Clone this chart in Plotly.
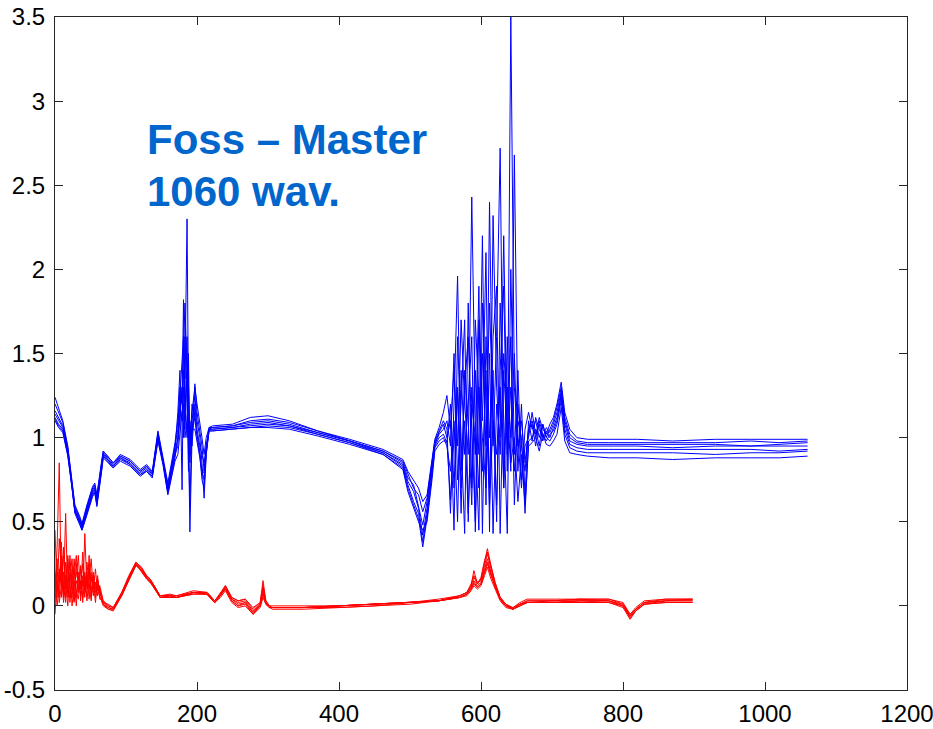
import plotly.graph_objects as go

# ---------------- data ----------------
BLUE_X = [0, 5, 11, 18, 24, 28, 35, 38, 45, 53, 56, 59, 66, 68, 82, 92, 106, 120, 129, 137, 145, 152, 159, 169,
          173, 176, 179, 181, 183, 186, 188, 190, 193, 197, 200, 204, 207, 210, 213, 217,
          222, 250, 275, 300, 330, 370, 415, 462, 490, 497, 505, 512, 518, 524, 531, 535, 541, 547,
          552, 557, 562, 567, 572, 577, 582, 587, 592, 597, 602, 607, 612, 617, 622, 627, 632, 637, 642, 647,
          652, 657, 662, 667, 672, 677, 682, 687, 692, 697,
          702, 707, 713, 718, 725, 735, 750, 780, 820, 870, 930, 980, 1020, 1060]

B1 = [1.24, 1.18, 1.10, 0.95, 0.75, 0.60, 0.53, 0.49, 0.60, 0.71, 0.73, 0.66, 0.87, 0.92, 0.85, 0.90, 0.87, 0.81, 0.84, 0.80, 1.04, 0.89, 0.73, 0.97,
      1.10, 1.25, 1.45, 1.60, 1.35, 2.30, 1.20, 0.95, 1.15, 1.30, 1.20, 1.10, 1.00, 0.90, 1.00, 1.06,
      1.07, 1.08, 1.12, 1.13, 1.10, 1.04, 0.99, 0.93, 0.87, 0.80, 0.75, 0.70, 0.62, 0.66, 0.87, 0.99, 1.06, 1.15,
      1.25, 1.05, 1.40, 0.95, 1.70, 1.20, 0.90, 2.43, 1.10, 0.70, 1.50, 0.95, 1.80, 1.10, 0.60, 1.40, 1.90, 0.80, 3.50, 1.30,
      0.95, 1.10, 0.85, 1.05, 1.10, 1.00, 1.12, 1.05, 1.02, 1.08,
      1.12, 1.20, 1.33, 1.15, 1.05, 1.00, 0.99, 0.99, 0.99, 0.98, 0.99, 0.99, 0.99, 0.99]
B2 = [1.20, 1.15, 1.09, 0.94, 0.74, 0.59, 0.52, 0.48, 0.59, 0.70, 0.72, 0.65, 0.86, 0.92, 0.85, 0.89, 0.86, 0.80, 0.83, 0.79, 1.03, 0.88, 0.71, 0.95,
      1.05, 1.30, 1.20, 1.82, 1.10, 1.60, 0.90, 0.44, 1.00, 1.32, 1.15, 1.05, 0.95, 0.80, 0.95, 1.05,
      1.06, 1.07, 1.10, 1.11, 1.09, 1.04, 0.98, 0.92, 0.86, 0.78, 0.70, 0.66, 0.56, 0.64, 0.86, 0.98, 1.04, 1.10,
      1.05, 0.55, 1.20, 1.96, 0.80, 1.30, 1.60, 1.00, 0.50, 1.70, 1.10, 2.10, 0.44, 2.32, 1.30, 0.90, 1.50, 1.20, 0.80, 2.68,
      1.00, 0.70, 1.05, 1.15, 1.05, 1.10, 1.00, 1.08, 1.00, 1.05,
      1.10, 1.18, 1.30, 1.12, 1.02, 0.98, 0.97, 0.97, 0.97, 0.97, 0.97, 0.98, 0.97, 0.98]
B3 = [1.16, 1.12, 1.07, 0.93, 0.73, 0.58, 0.51, 0.47, 0.58, 0.69, 0.71, 0.64, 0.85, 0.91, 0.84, 0.89, 0.86, 0.80, 0.83, 0.79, 1.02, 0.87, 0.70, 0.93,
      1.15, 1.40, 0.69, 1.50, 1.80, 1.40, 1.00, 0.60, 1.10, 1.25, 1.10, 1.00, 0.85, 0.64, 0.90, 1.06,
      1.06, 1.07, 1.09, 1.10, 1.08, 1.03, 0.98, 0.92, 0.85, 0.76, 0.72, 0.60, 0.48, 0.62, 0.85, 0.97, 1.03, 1.08,
      1.00, 1.10, 0.45, 1.60, 1.00, 0.43, 1.80, 0.70, 1.40, 0.90, 2.20, 0.60, 2.40, 0.95, 1.60, 2.72, 0.70, 1.30, 1.00, 1.50,
      0.80, 1.20, 0.65, 1.10, 0.98, 1.12, 1.05, 1.00, 1.06, 1.03,
      1.08, 1.15, 1.28, 1.10, 1.00, 0.97, 0.96, 0.96, 0.96, 0.96, 0.96, 0.95, 0.96, 0.97]
B4 = [1.14, 1.10, 1.06, 0.92, 0.72, 0.57, 0.50, 0.46, 0.57, 0.68, 0.70, 0.62, 0.84, 0.90, 0.83, 0.88, 0.85, 0.79, 0.82, 0.78, 1.01, 0.87, 0.69, 0.92,
      1.00, 1.15, 1.30, 1.00, 1.60, 1.20, 0.80, 1.10, 0.95, 1.20, 1.05, 0.95, 0.90, 0.85, 0.95, 1.05,
      1.05, 1.06, 1.08, 1.09, 1.07, 1.03, 0.98, 0.91, 0.84, 0.74, 0.68, 0.58, 0.42, 0.58, 0.83, 0.96, 1.02, 1.05,
      1.10, 0.95, 1.50, 0.75, 1.20, 1.70, 0.50, 1.30, 0.90, 1.90, 0.43, 1.60, 1.00, 1.40, 0.50, 1.80, 1.10, 0.43, 2.00, 0.90,
      1.40, 0.75, 0.95, 1.00, 1.15, 1.02, 1.08, 0.98, 1.04, 1.00,
      1.06, 1.12, 1.26, 1.08, 0.98, 0.96, 0.95, 0.95, 0.95, 0.94, 0.95, 0.95, 0.95, 0.95]
B5 = [1.12, 1.08, 1.05, 0.91, 0.71, 0.56, 0.50, 0.46, 0.56, 0.67, 0.69, 0.61, 0.83, 0.90, 0.83, 0.88, 0.84, 0.78, 0.81, 0.77, 1.00, 0.86, 0.68, 0.90,
      0.95, 1.10, 1.25, 1.40, 1.20, 1.00, 1.50, 0.90, 1.20, 1.10, 1.00, 0.92, 0.80, 0.75, 0.92, 1.05,
      1.05, 1.06, 1.07, 1.08, 1.07, 1.02, 0.97, 0.91, 0.83, 0.72, 0.62, 0.55, 0.38, 0.55, 0.80, 0.95, 1.00, 1.02,
      0.97, 1.20, 0.70, 1.30, 0.55, 1.40, 1.10, 0.60, 1.70, 1.20, 0.80, 1.40, 0.70, 1.60, 1.90, 0.43, 1.40, 1.00, 1.60, 0.60,
      1.20, 0.95, 0.80, 1.05, 1.08, 0.95, 1.10, 1.02, 0.98, 1.02,
      1.04, 1.10, 1.25, 1.05, 0.96, 0.94, 0.93, 0.93, 0.93, 0.93, 0.93, 0.93, 0.92, 0.93]
B6 = [1.11, 1.07, 1.04, 0.90, 0.70, 0.56, 0.49, 0.45, 0.55, 0.66, 0.68, 0.60, 0.82, 0.89, 0.82, 0.87, 0.84, 0.78, 0.80, 0.77, 0.99, 0.85, 0.67, 0.88,
      1.00, 1.20, 1.10, 1.30, 1.05, 1.40, 1.10, 0.85, 1.05, 1.15, 1.00, 0.90, 0.75, 0.70, 0.90, 1.04,
      1.04, 1.05, 1.06, 1.07, 1.06, 1.02, 0.97, 0.90, 0.82, 0.70, 0.60, 0.52, 0.35, 0.52, 0.78, 0.94, 0.98, 1.00,
      0.95, 0.80, 1.10, 0.50, 1.40, 0.90, 1.20, 1.60, 0.44, 1.30, 1.00, 0.70, 1.50, 0.43, 1.20, 1.00, 2.20, 0.90, 1.30, 0.80,
      1.10, 1.00, 0.55, 0.98, 1.00, 1.05, 0.95, 1.08, 1.00, 0.98,
      1.02, 1.08, 1.22, 1.02, 0.94, 0.92, 0.91, 0.91, 0.91, 0.91, 0.90, 0.91, 0.91, 0.92]
B7 = [1.10, 1.06, 1.03, 0.89, 0.70, 0.55, 0.48, 0.45, 0.54, 0.65, 0.67, 0.59, 0.81, 0.88, 0.82, 0.86, 0.83, 0.77, 0.80, 0.76, 0.98, 0.84, 0.66, 0.86,
      0.90, 1.05, 1.15, 1.20, 1.00, 1.10, 1.30, 1.00, 1.05, 1.05, 0.98, 0.88, 0.78, 0.80, 0.92, 1.04,
      1.04, 1.05, 1.06, 1.06, 1.05, 1.01, 0.96, 0.90, 0.81, 0.68, 0.58, 0.50, 0.45, 0.50, 0.75, 0.92, 0.96, 0.98,
      0.98, 0.63, 1.00, 1.25, 0.70, 1.10, 0.55, 1.20, 1.00, 0.45, 1.80, 1.20, 0.60, 1.10, 0.90, 1.30, 0.70, 1.60, 0.85, 1.00,
      0.62, 0.90, 0.60, 0.95, 0.97, 1.00, 0.92, 1.02, 0.96, 0.95,
      0.98, 1.02, 1.18, 0.98, 0.91, 0.90, 0.89, 0.88, 0.88, 0.87, 0.88, 0.88, 0.88, 0.89]

RED_X = [0, 3, 6, 9, 12, 15, 18, 21, 24, 27, 30, 33, 36, 39, 42, 45, 48, 51, 54, 57, 60, 63,
         68, 75, 82, 94, 104, 114, 122, 129, 134, 140, 148, 162, 171, 195, 214, 225, 233, 240, 249, 258, 268, 279, 289,
         293, 297, 302, 306,
         350, 400, 450, 500, 540, 570, 580, 586, 590, 595, 600, 605, 609, 614, 620, 627, 635, 645, 655, 665,
         700, 740, 780, 800, 810, 818, 830, 860, 898]

R1 = [0.10, 0.35, 0.85, 0.05, 0.20, 0.10, 0.28, 0.02, 0.15, 0.22, 0.05, 0.18, 0.12, 0.25, 0.08, 0.15, 0.10, 0.20, 0.06, 0.14, 0.09, 0.12,
      0.03, 0.00, -0.01, 0.08, 0.17, 0.26, 0.22, 0.18, 0.16, 0.12, 0.06, 0.06, 0.05, 0.08, 0.08, 0.03, 0.07, 0.12, 0.05, 0.03, 0.04, -0.02, 0.02,
      0.15, 0.03, 0.00, -0.01,
      -0.01, 0.00, 0.01, 0.02, 0.03, 0.06, 0.08, 0.12, 0.21, 0.13, 0.16, 0.26, 0.34, 0.24, 0.13, 0.05, 0.01, -0.02, 0.01, 0.03,
      0.03, 0.04, 0.03, 0.01, -0.06, -0.02, 0.02, 0.04, 0.04]
R2 = [0.02, 0.20, 0.15, 0.30, 0.08, 0.55, 0.05, 0.18, 0.28, 0.03, 0.15, 0.10, 0.24, 0.02, 0.18, 0.12, 0.22, 0.07, 0.16, 0.10, 0.13, 0.08,
      0.02, -0.01, -0.02, 0.07, 0.16, 0.25, 0.21, 0.17, 0.15, 0.11, 0.06, 0.06, 0.05, 0.08, 0.07, 0.02, 0.06, 0.11, 0.04, 0.01, 0.02, -0.04, 0.01,
      0.09, 0.02, -0.01, -0.01,
      -0.01, 0.00, 0.01, 0.02, 0.03, 0.05, 0.07, 0.11, 0.15, 0.12, 0.14, 0.22, 0.28, 0.20, 0.12, 0.04, 0.00, -0.02, 0.00, 0.02,
      0.03, 0.03, 0.03, 0.00, -0.07, -0.03, 0.01, 0.03, 0.03]
R3 = [-0.05, 0.15, 0.05, 0.25, 0.12, 0.02, 0.30, 0.10, 0.05, 0.20, 0.30, 0.08, 0.15, 0.05, 0.43, 0.10, 0.25, 0.05, 0.18, 0.08, 0.15, 0.10,
      0.01, -0.02, -0.02, 0.06, 0.16, 0.25, 0.20, 0.16, 0.14, 0.11, 0.05, 0.05, 0.05, 0.07, 0.07, 0.02, 0.06, 0.10, 0.03, 0.00, 0.01, -0.05, 0.00,
      0.07, 0.01, -0.01, -0.01,
      -0.01, -0.01, 0.00, 0.02, 0.03, 0.05, 0.07, 0.10, 0.14, 0.11, 0.13, 0.20, 0.25, 0.18, 0.11, 0.04, 0.00, -0.01, 0.01, 0.02,
      0.02, 0.03, 0.02, 0.00, -0.07, -0.03, 0.01, 0.02, 0.02]
R4 = [0.45, 0.08, 0.22, 0.12, 0.35, 0.05, 0.15, 0.25, 0.00, 0.12, 0.18, 0.30, 0.03, 0.15, 0.10, 0.20, 0.04, 0.17, 0.10, 0.22, 0.06, 0.10,
      0.02, 0.01, -0.01, 0.07, 0.17, 0.25, 0.22, 0.17, 0.15, 0.12, 0.05, 0.06, 0.06, 0.08, 0.08, 0.03, 0.07, 0.11, 0.04, 0.02, 0.03, -0.03, 0.01,
      0.11, 0.02, -0.01, -0.01,
      -0.01, 0.00, 0.01, 0.02, 0.03, 0.06, 0.08, 0.13, 0.18, 0.14, 0.15, 0.24, 0.31, 0.22, 0.13, 0.05, 0.01, -0.02, 0.01, 0.03,
      0.03, 0.04, 0.04, 0.01, -0.05, -0.02, 0.02, 0.03, 0.04]
R5 = [0.20, 0.05, 0.40, 0.18, 0.02, 0.26, 0.12, 0.05, 0.22, 0.15, 0.00, 0.20, 0.10, 0.18, 0.05, 0.26, 0.12, 0.03, 0.20, 0.05, 0.12, 0.06,
      0.00, -0.02, -0.03, 0.06, 0.15, 0.24, 0.21, 0.16, 0.14, 0.10, 0.05, 0.05, 0.05, 0.07, 0.07, 0.02, 0.05, 0.09, 0.02, -0.01, 0.00, -0.05, -0.01,
      0.05, 0.01, -0.01, -0.01,
      -0.01, 0.00, 0.01, 0.02, 0.03, 0.05, 0.06, 0.09, 0.12, 0.10, 0.12, 0.18, 0.23, 0.16, 0.10, 0.03, -0.01, -0.02, 0.00, 0.02,
      0.02, 0.02, 0.02, -0.01, -0.08, -0.03, 0.01, 0.02, 0.02]
R6 = [0.08, 0.28, 0.02, 0.12, 0.30, 0.15, 0.00, 0.20, 0.10, 0.28, 0.08, 0.04, 0.22, 0.12, 0.20, 0.03, 0.15, 0.28, 0.08, 0.12, 0.18, 0.04,
      0.03, 0.00, -0.01, 0.08, 0.18, 0.26, 0.23, 0.18, 0.16, 0.12, 0.06, 0.07, 0.06, 0.09, 0.08, 0.03, 0.08, 0.12, 0.05, 0.03, 0.04, -0.01, 0.02,
      0.12, 0.03, 0.00, 0.00,
      0.00, 0.00, 0.01, 0.02, 0.04, 0.06, 0.08, 0.12, 0.17, 0.13, 0.17, 0.27, 0.32, 0.23, 0.14, 0.05, 0.01, -0.01, 0.02, 0.04,
      0.04, 0.04, 0.04, 0.02, -0.05, -0.01, 0.03, 0.04, 0.04]
R7 = [0.15, 0.00, 0.12, 0.38, 0.05, 0.18, 0.08, 0.30, 0.12, 0.02, 0.25, 0.14, 0.06, 0.32, 0.12, 0.06, 0.30, 0.10, 0.14, 0.02, 0.16, 0.09,
      0.01, -0.01, -0.02, 0.07, 0.16, 0.24, 0.21, 0.17, 0.15, 0.11, 0.05, 0.06, 0.05, 0.08, 0.07, 0.02, 0.06, 0.10, 0.03, 0.00, 0.02, -0.04, 0.00,
      0.08, 0.01, -0.01, -0.02,
      -0.02, -0.01, 0.00, 0.01, 0.03, 0.05, 0.07, 0.10, 0.13, 0.11, 0.13, 0.21, 0.26, 0.19, 0.11, 0.04, 0.00, -0.02, 0.01, 0.02,
      0.02, 0.03, 0.03, 0.00, -0.06, -0.02, 0.02, 0.03, 0.03]

BLUE_SERIES = [B1, B2, B3, B4, B5, B6, B7]
RED_SERIES = [R1, R2, R3, R4, R5, R6, R7]

X_TICKS = [0, 200, 400, 600, 800, 1000, 1200]
X_TICK_TEXT = ["0", "200", "400", "600", "800", "1000", "1200"]
Y_TICKS = [-0.5, 0, 0.5, 1, 1.5, 2, 2.5, 3, 3.5]
Y_TICK_TEXT = ["-0.5", "0", "0.5", "1", "1.5", "2", "2.5", "3", "3.5"]

TITLE_LINE1 = "Foss – Master"
TITLE_LINE2 = "1060 wav."

for s in BLUE_SERIES:
    if len(s) != len(BLUE_X):
        raise ValueError(f"blue length {len(s)} != {len(BLUE_X)}")
for s in RED_SERIES:
    if len(s) != len(RED_X):
        raise ValueError(f"red length {len(s)} != {len(RED_X)}")

# ---------------- figure ----------------
fig = go.Figure()
for s in BLUE_SERIES:
    fig.add_trace(go.Scatter(x=BLUE_X, y=s, mode="lines",
                             line=dict(color="#0000FF", width=1), showlegend=False))
for s in RED_SERIES:
    fig.add_trace(go.Scatter(x=RED_X, y=s, mode="lines",
                             line=dict(color="#FF0000", width=1), showlegend=False))

axis_common = dict(showgrid=False, zeroline=False, showline=True, linecolor="#262626",
                   linewidth=1, mirror="ticks", ticks="inside", ticklen=8, tickwidth=1,
                   tickcolor="#262626", automargin=False, ticklabeloverflow="allow",
                   tickfont=dict(family="Liberation Sans, Arial, sans-serif", size=24, color="#000000"))

fig.update_xaxes(range=[0, 1200], tickvals=X_TICKS, ticktext=X_TICK_TEXT,
                 ticklabelstandoff=2, **axis_common)
fig.update_yaxes(range=[-0.5, 3.5], tickvals=Y_TICKS, ticktext=Y_TICK_TEXT,
                 ticklabelstandoff=4, **axis_common)

title_font = dict(family="Liberation Sans, Arial, sans-serif", size=42, color="#0066CC")
fig.add_annotation(x=0.106, y=0.818, xref="paper", yref="paper", xanchor="left", yanchor="middle",
                   text=f"<b>{TITLE_LINE1}</b>", showarrow=False, font=title_font)
fig.add_annotation(x=0.106, y=0.741, xref="paper", yref="paper", xanchor="left", yanchor="middle",
                   text=f"<b>{TITLE_LINE2}</b>", showarrow=False, font=title_font)

fig.update_layout(width=933, height=729, margin=dict(l=55, r=26, t=17, b=39),
                  plot_bgcolor="white", paper_bgcolor="white")

# remove the browser's default 8px body margin so the figure sits at the window's corner
fig.write_html("out.html", config={"displayModeBar": False},
               post_script="document.body.style.margin='0';document.body.style.overflow='hidden';")
